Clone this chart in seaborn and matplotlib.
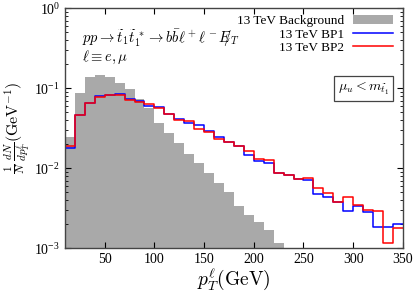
import numpy as np
import pandas as pd
import matplotlib
matplotlib.use('Agg')
import matplotlib.pyplot as plt
import seaborn as sns
from matplotlib.patches import Patch
from matplotlib.lines import Line2D

# bin edges in GeV (10 GeV bins)
edges = np.arange(10, 360, 10)
centers = edges[:-1] + 5

# background distribution (bins 10-230 GeV)
bkg_vals = [0.0244, 0.0866, 0.137, 0.148, 0.137, 0.1155, 0.0972, 0.0729, 0.0562,
            0.0365, 0.0279, 0.0209, 0.0151, 0.01155, 0.00866, 0.0066, 0.0051,
            0.00338, 0.00261, 0.00215, 0.00169, 0.001155]

bp1_vals = [0.01794, 0.0464, 0.0661, 0.0808, 0.0832, 0.0841, 0.0735, 0.0694, 0.0606,
            0.0575, 0.0481, 0.0413, 0.0368, 0.0351, 0.0295, 0.0248, 0.0213, 0.0191,
            0.01459, 0.0124, 0.01155, 0.00873, 0.00813, 0.00741, 0.0071, 0.00474,
            0.0044, 0.00379, 0.00291, 0.00336, 0.00284, 0.00186, 0.00186, 0.00201]

bp2_vals = [0.01884, 0.0464, 0.0661, 0.0785, 0.0818, 0.0825, 0.0714, 0.0674, 0.0636,
            0.0562, 0.0481, 0.0405, 0.0394, 0.0307, 0.0282, 0.0232, 0.0210, 0.0191,
            0.01645, 0.0129, 0.0127, 0.00881, 0.00832, 0.00741, 0.00756, 0.00562,
            0.00495, 0.00379, 0.00442, 0.00343, 0.00301, 0.0029, 0.001155, 0.00178]

nb = len(bkg_vals)
df_bkg = pd.DataFrame({'pt': centers[:nb], 'w': bkg_vals})
df_sig = pd.DataFrame({'pt': centers, 'bp1': bp1_vals, 'bp2': bp2_vals})

plt.rcParams['font.family'] = 'serif'
plt.rcParams['font.serif'] = ['Liberation Serif', 'DejaVu Serif']
plt.rcParams['mathtext.fontset'] = 'cm'

fig = plt.figure(figsize=(4.14, 2.91), dpi=100)
ax = fig.add_axes([0.157, 0.147, 0.816, 0.825])

sns.histplot(data=df_bkg, x='pt', weights='w', bins=list(edges[:nb + 1]), element='step',
             fill=True, color='#a9a9a9', alpha=1, linewidth=0, ax=ax)
sns.histplot(data=df_sig, x='pt', weights='bp1', bins=list(edges), element='step', fill=False,
             color='#0000ff', linewidth=1.1, ax=ax)
sns.histplot(data=df_sig, x='pt', weights='bp2', bins=list(edges), element='step', fill=False,
             color='#ff0000', linewidth=1.1, ax=ax)

ax.set_yscale('log')
ax.set_xlim(10, 350)
ax.set_ylim(1e-3, 1)
ax.set_xticks([50, 100, 150, 200, 250, 300, 350])
ax.tick_params(which='both', direction='in', top=True, right=True, labelsize=10)
ax.tick_params(which='major', length=4)
ax.tick_params(which='minor', length=2)
for s in ax.spines.values():
    s.set_linewidth(1.0)
    s.set_color('#444444')

ax.set_xlabel(r'$p_T^{\ell}(\mathrm{GeV})$', fontsize=14, labelpad=0)
ax.set_ylabel(r'$\frac{1}{N}\,\frac{dN}{dp_T^{\ell}}(\mathrm{GeV}^{-1})$', fontsize=11.5)
ax.yaxis.set_label_coords(-0.095, 0.5)

ax.text(0.05, 0.855, r'$pp\rightarrow\widetilde{t}_1\widetilde{t}_1^{\,*}\rightarrow b\bar{b}\ell^+\ell^- E\!\!\!/_T$',
        transform=ax.transAxes, fontsize=10.5, va='baseline')
ax.text(0.05, 0.78, r'$\ell\equiv e,\mu$', transform=ax.transAxes, fontsize=10.5, va='baseline')
ax.text(0.96, 0.665, r'$\mu_u < m_{\widetilde{t}_1}$', transform=ax.transAxes, fontsize=10,
        ha='right', va='center',
        bbox=dict(boxstyle='square,pad=0.3', facecolor='white', edgecolor='#444444', linewidth=0.9))

handles = [Patch(facecolor='#a9a9a9', edgecolor='none'),
           Line2D([], [], color='#0000ff', linewidth=1.1),
           Line2D([], [], color='#ff0000', linewidth=1.1)]
labels = ['13 TeV Background', '13 TeV BP1', '13 TeV BP2']
ax.legend(handles, labels, loc='upper right', frameon=False, markerfirst=False,
          fontsize=9.5, handlelength=3.0, handleheight=0.7, labelspacing=0.1,
          borderaxespad=0.1, handletextpad=0.7, bbox_to_anchor=(0.99, 1.0))

fig.savefig('out.png', dpi=100)
